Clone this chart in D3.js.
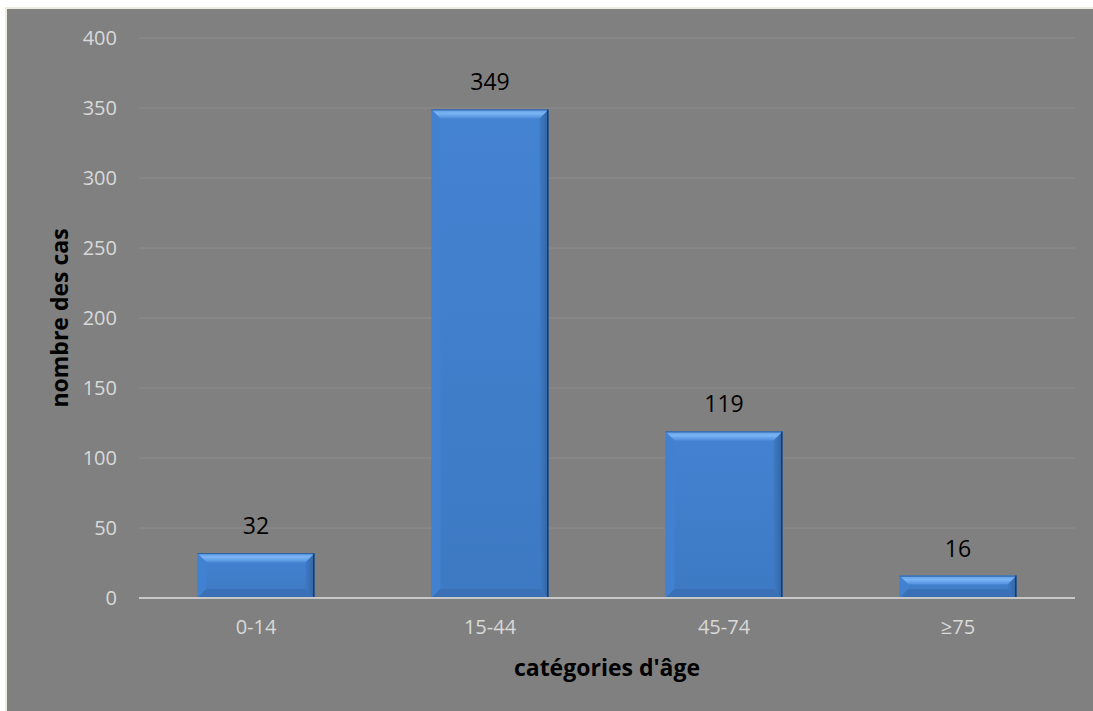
<!DOCTYPE html>
<html>
<head>
<meta charset="utf-8">
<script src="https://cdn.jsdelivr.net/npm/d3@7"></script>
<style>
  html, body { margin: 0; padding: 0; background: #ffffff; }
  svg { display: block; }
</style>
</head>
<body>
<svg id="chart" width="1093" height="711"></svg>
<script>
// Cases by age group
const categories = ["0-14", "15-44", "45-74", "\u226575"];
const cases = [32, 349, 119, 16];
const yTicks = [0, 50, 100, 150, 200, 250, 300, 350, 400];
const xTitle = "catégories d'âge";
const yTitle = "nombre des cas";

const W = 1093, H = 711;
const margin = { left: 139, right: 18, top: 38, bottom: 113 };
const svg = d3.select("#chart");

// frame
svg.append("rect").attr("x", 5).attr("y", 7).attr("width", W - 5).attr("height", H - 7).attr("fill", "#eeece1");
svg.append("rect").attr("x", 7).attr("y", 9).attr("width", W - 7).attr("height", H - 9).attr("fill", "#808080");

const x = d3.scaleBand().domain(categories).range([margin.left, W - margin.right]).paddingInner(0.5).paddingOuter(0.25);
const y = d3.scaleLinear().domain([0, 400]).range([H - margin.bottom, margin.top]);

const font = "'Open Sans', 'Liberation Sans', sans-serif";

// gridlines
svg.append("g").selectAll("line").data(yTicks.filter(d => d > 0)).join("line")
  .attr("x1", margin.left).attr("x2", W - margin.right)
  .attr("y1", d => y(d)).attr("y2", d => y(d))
  .attr("stroke", "#8d8d8d").attr("stroke-width", 1);

// y axis labels
const yAxis = d3.axisLeft(y).tickValues(yTicks).tickSize(0).tickPadding(22);
const gy = svg.append("g").attr("transform", `translate(${margin.left},0)`).call(yAxis);
gy.select(".domain").remove();
gy.selectAll("text").attr("fill", "#d9d9d9").style("font-family", font).style("font-size", "20px");

// gradients for bar body, right side and top bevel
const defs = svg.append("defs");
const grad = defs.append("linearGradient").attr("id", "barBody").attr("x1", 0).attr("x2", 0).attr("y1", 0).attr("y2", 1);
grad.append("stop").attr("offset", "0%").attr("stop-color", "#4483d2");
grad.append("stop").attr("offset", "100%").attr("stop-color", "#3d79c3");
const rightGrad = defs.append("linearGradient").attr("id", "barRight").attr("x1", 0).attr("x2", 1).attr("y1", 0).attr("y2", 0);
rightGrad.append("stop").attr("offset", "0%").attr("stop-color", "#3e7bc6");
rightGrad.append("stop").attr("offset", "100%").attr("stop-color", "#32649f");
const topGrad = defs.append("linearGradient").attr("id", "barTop").attr("x1", 0).attr("x2", 0).attr("y1", 0).attr("y2", 1);
topGrad.append("stop").attr("offset", "0%").attr("stop-color", "#5c9de9");
topGrad.append("stop").attr("offset", "45%").attr("stop-color", "#7ab4f3");
topGrad.append("stop").attr("offset", "100%").attr("stop-color", "#4f8edc");

const bev = 9;
const bars = svg.append("g").selectAll("g").data(categories.map((c, i) => ({ c, v: cases[i] }))).join("g");
bars.each(function(d) {
  const g = d3.select(this);
  const x0 = x(d.c), w = x.bandwidth();
  const yt = y(d.v), yb = y(0), h = yb - yt;
  const b = Math.min(bev, h / 2);
  g.append("rect").attr("x", x0).attr("y", yt).attr("width", w).attr("height", h).attr("fill", "url(#barBody)");
  // left bevel
  g.append("path").attr("d", `M${x0},${yt}L${x0 + b},${yt + b}V${yb - b}L${x0},${yb}Z`).attr("fill", "#4281cf");
  // right bevel
  g.append("path").attr("d", `M${x0 + w},${yt}L${x0 + w - b},${yt + b}V${yb - b}L${x0 + w},${yb}Z`).attr("fill", "url(#barRight)");
  // bottom bevel
  g.append("path").attr("d", `M${x0},${yb}H${x0 + w}L${x0 + w - b},${yb - b}H${x0 + b}Z`).attr("fill", "#3a70b6");
  // top bevel
  g.append("path").attr("d", `M${x0},${yt}H${x0 + w}L${x0 + w - b},${yt + b}H${x0 + b}Z`).attr("fill", "url(#barTop)");
  // dark outline on right and top
  g.append("line").attr("x1", x0 + w - 0.75).attr("x2", x0 + w - 0.75).attr("y1", yt).attr("y2", yb).attr("stroke", "#1e3b66").attr("stroke-width", 1.5);
  g.append("line").attr("x1", x0).attr("x2", x0 + w).attr("y1", yt + 0.5).attr("y2", yt + 0.5).attr("stroke", "#2c5893").attr("stroke-width", 1);
  // value label
  g.append("text").attr("x", x0 + w / 2).attr("y", yt - 19).attr("text-anchor", "middle")
    .attr("fill", "#000").style("font-family", font).style("font-size", "23px").text(d.v);
});

// x axis baseline
svg.append("line").attr("x1", margin.left).attr("x2", W - margin.right)
  .attr("y1", y(0)).attr("y2", y(0)).attr("stroke", "#c8c8c8").attr("stroke-width", 2);

// x axis labels
const xAxis = d3.axisBottom(x).tickSize(0).tickPadding(22);
const gx = svg.append("g").attr("transform", `translate(0,${y(0)})`).call(xAxis);
gx.select(".domain").remove();
gx.selectAll("text").attr("fill", "#d9d9d9").style("font-family", font).style("font-size", "20px");

// axis titles
svg.append("text").attr("x", (margin.left + W - margin.right) / 2).attr("y", 676).attr("text-anchor", "middle")
  .attr("fill", "#000").style("font-family", font).style("font-weight", "bold").style("font-size", "23px").text(xTitle);
svg.append("text").attr("transform", `translate(68,${y(200)}) rotate(-90)`).attr("text-anchor", "middle")
  .attr("fill", "#000").style("font-family", font).style("font-weight", "bold").style("font-size", "23px").text(yTitle);
</script>
</body>
</html>
